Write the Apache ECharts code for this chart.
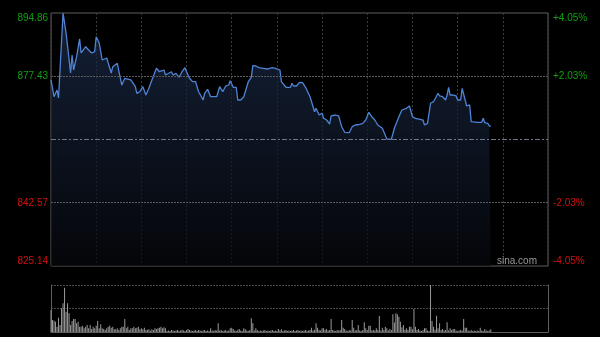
<!DOCTYPE html>
<html>
<head>
<meta charset="utf-8">
<script src="https://cdn.jsdelivr.net/npm/echarts@6/dist/echarts.min.js"></script>
<style>html,body{margin:0;padding:0;background:#000;}#c{width:600px;height:337px;}</style>
</head>
<body>
<div id="c"></div>
<script>
// ---- data ----
var prevClose = 860.00;
var priceTicks = [825.14, 842.57, 860.00, 877.43, 894.86];
var minutes = [0,2,4,5,8,10,13,14,15,17,19,20,23,25,27,29,30,32,34,37,40,41,44,47,49,53,56,57,59,61,63,65,67,70,72,75,76,80,81,83,85,87,89,90,92,94,96,98,101,102,104,106,110,112,113,114,116,118,119,121,123,124,126,128,131,133,134,136,138,141,142,144,147,149,150,152,153,154,156,159,160,161,163,165,167,169,170,172,174,175,176,178,180,181,183,185,186,189,191,193,195,196,198,200,202,203,205,207,209,211,213,215,217,220,223,226,228,231,233,234,236,238,240,242,243,245,247,248,250,252,254,255,257,258,260,262,263,264,265,267,269,270,272,273,275,276,278,279,283,286,287,288,290,291,292];
var prices = [876.40,871.79,873.64,871.44,894.86,889.35,878.33,883.29,879.15,882.82,887.70,883.84,885.57,884.66,883.84,884.20,888.33,886.59,881.91,882.46,878.33,880.06,881.00,875.02,876.87,876.40,874.55,872.73,873.17,874.55,872.26,874.11,876.40,879.62,878.68,879.15,877.77,878.68,877.77,878.24,877.14,878.68,879.79,878.68,876.87,875.93,875.93,873.17,870.89,872.73,873.83,871.79,871.79,874.55,874.74,873.17,874.74,875.02,876.20,874.39,874.39,870.89,870.89,871.79,875.93,877.14,880.34,880.25,879.79,879.62,879.79,879.43,879.79,879.62,879.43,879.15,875.93,876.40,874.39,874.39,875.49,874.74,874.74,875.76,875.65,874.39,874.11,871.79,869.04,867.66,868.60,866.75,867.22,865.84,865.37,864.27,866.48,866.75,866.48,863.53,861.98,862.15,861.87,863.53,864.00,863.72,864.19,864.46,865.37,867.50,866.28,865.37,864.00,863.09,860.14,860.06,863.09,866.28,868.13,868.13,868.60,869.23,866.28,865.84,866.12,865.57,865.37,864.00,864.46,869.98,870.42,870.14,872.73,871.99,871.79,870.89,872.26,874.39,872.26,872.26,871.99,870.89,870.89,874.11,870.89,869.23,869.51,864.91,864.74,864.74,865.84,864.63,864.46,863.72,863.72];
// volume per minute (relative units), minute 0..292
var volumes = [
47,25.5,24.1,22,11.3,30.5,14.9,50.4,61,94.3,
43.3,61,39.7,14.9,23.4,27.7,27.7,18.4,22,11.3,
11.3,13.5,7.8,11.3,14.9,7.8,14.9,6.4,11.3,7.8,
13.5,23.4,7.8,16.3,7.8,6.4,4.3,7.8,11.3,13.5,
9.2,11.3,5.7,6,7.8,4.3,7.8,11.3,11.3,27.7,
7.8,11.3,4.3,7.8,7.8,11.3,7.8,9.2,11.3,5.7,
7.8,5.7,9.2,4.3,5,5.7,2.8,5.7,4.3,7.8,
6.4,7.8,9.2,11.3,8,9.9,7.8,2.1,3,2,
4,3,2,3,4,2,3,5,3,2,
4,6.4,4.3,3,2,3,4,2,4.3,3,
2,3,4,2,3,2,7.8,3,2,4,
3,18.4,3,4.3,2,3,4,2,3,7.8,
9.2,6.4,3,2,4,6.4,3,2,7.8,5.7,
3,2,4,29.1,18.4,3,7.8,4.3,2,3,
2,3,4,2,3,2,3,4,2,3,
2,6.4,3,5.7,2,3,4,2,3,2,
3,4.3,2,3,4,2,3,2,3,4,
2,3,4,9.2,3,5,18.4,9.2,4,3,
7.8,7.8,4,6.4,3,4,27.7,4.3,3,2,
4.3,3,4,25.5,9.2,6.4,3,2,4,3,
25.5,9.2,3,4,14.9,3,2,4,20.6,7.8,
4,13.5,13.5,3,4,3,7.8,4,34,3,
9.2,4,11.3,7.8,3,6.4,4,37.6,20,39.7,
37.6,32.6,22,10,14.9,5,7.8,4,11.3,11.3,
6,48.9,11.3,4,6.4,3,2,4,7.8,7.8,
3,2,100,23.4,11.3,5,34.8,7.8,18.4,4,
6.4,3,4,20.6,3,7.8,4,6.4,6.4,3,
2,3,4,3,27.7,9.2,9.2,3,2,4.3,
2,3,2,3,2,9.2,3,2,6.4,3,
2,3,5.7];
var totalMinutes = 330;
var volMax = 100;

// ---- build ----
var priceData = minutes.map(function (m, i) { return [m, prices[i]]; });
var volData = volumes.map(function (v, i) { return [i, v]; });
var green = '#10a010', red = '#d01010';
function near(a, b) { return Math.abs(a - b) < 0.005; }

var chart = echarts.init(document.getElementById('c'), null, {renderer: 'canvas'});
chart.setOption({
  backgroundColor: '#000',
  animation: false,
  title: {
    text: 'sina.com', right: 63, top: 256, padding: 0,
    textStyle: {color: '#9a9a9a', fontSize: 10, fontWeight: 'normal', fontFamily: 'Liberation Sans'}
  },
  grid: [
    {left: 51, right: 52, top: 13, height: 253, show: true, borderColor: '#5e5e5e', borderWidth: 1, backgroundColor: 'transparent'},
    {left: 51, right: 52, top: 285, height: 47}
  ],
  xAxis: [
    {gridIndex: 0, type: 'value', min: 0, max: totalMinutes, interval: 30,
     axisLine: {show: false}, axisTick: {show: false}, axisLabel: {show: false},
     splitLine: {show: true, lineStyle: {color: '#3c3c3c', type: [2, 2], width: 1}}},
    {gridIndex: 1, type: 'value', min: 0, max: totalMinutes,
     axisLine: {show: true, onZero: false, lineStyle: {color: '#5e5e5e'}}, axisTick: {show: false}, axisLabel: {show: false},
     splitLine: {show: false}}
  ],
  yAxis: [
    {gridIndex: 0, type: 'value', position: 'left', min: priceTicks[0], max: priceTicks[priceTicks.length - 1], interval: 17.43,
     axisLine: {show: false}, axisTick: {show: false}, splitLine: {show: false},
     axisLabel: {
       margin: 3, fontSize: 10, fontFamily: 'Liberation Sans',
       verticalAlignMinLabel: 'bottom', verticalAlignMaxLabel: 'top',
       formatter: function (v) { return near(v, prevClose) ? '' : v.toFixed(2); },
       color: function (v) { return v > prevClose ? green : red; }
     }},
    {gridIndex: 0, type: 'value', position: 'right', min: priceTicks[0], max: priceTicks[priceTicks.length - 1], interval: 17.43,
     axisLine: {show: false}, axisTick: {show: false}, splitLine: {show: false},
     axisLabel: {
       margin: 5, fontSize: 10, fontFamily: 'Liberation Sans',
       verticalAlignMinLabel: 'bottom', verticalAlignMaxLabel: 'top',
       formatter: function (v) {
         if (near(v, prevClose)) return '';
         var p = (v - prevClose) / prevClose * 100;
         return (p > 0 ? '+' : '') + p.toFixed(2) + '%';
       },
       color: function (v) { return v > prevClose ? green : red; }
     }},
    {gridIndex: 1, type: 'value', min: 0, max: volMax, interval: volMax / 2,
     axisLine: {show: true, lineStyle: {color: '#5e5e5e'}}, axisTick: {show: false}, axisLabel: {show: false},
     splitLine: {show: true, lineStyle: {color: '#4a4a4a', type: [2, 1]}}},
    {gridIndex: 1, type: 'value', position: 'right', min: 0, max: volMax,
     axisLine: {show: true, lineStyle: {color: '#5e5e5e'}}, axisTick: {show: false}, axisLabel: {show: false},
     splitLine: {show: false}}
  ],
  series: [
    {
      type: 'line', xAxisIndex: 0, yAxisIndex: 0, data: priceData,
      symbol: 'none', smooth: false,
      lineStyle: {color: '#4f83d4', width: 1.3},
      areaStyle: {
        origin: 'start',
        color: new echarts.graphic.LinearGradient(0, 0, 0, 1, [
          {offset: 0, color: '#1d2e4e'},
          {offset: 1, color: '#06080d'}
        ])
      },
      markLine: {
        silent: true, symbol: 'none', label: {show: false}, animation: false,
        data: [
          {yAxis: priceTicks[3], lineStyle: {color: '#5a5a5a', type: [2, 1], width: 1}},
          {yAxis: priceTicks[1], lineStyle: {color: '#5a5a5a', type: [2, 1], width: 1}},
          {yAxis: priceTicks[2], lineStyle: {color: '#6f7888', type: [5, 2, 2, 2], width: 1}}
        ]
      },
      z: 3
    },
    {
      type: 'bar', xAxisIndex: 1, yAxisIndex: 2, data: volData,
      barWidth: 1, itemStyle: {color: '#9a9a9a'}
    }
  ]
});
</script>
</body>
</html>
